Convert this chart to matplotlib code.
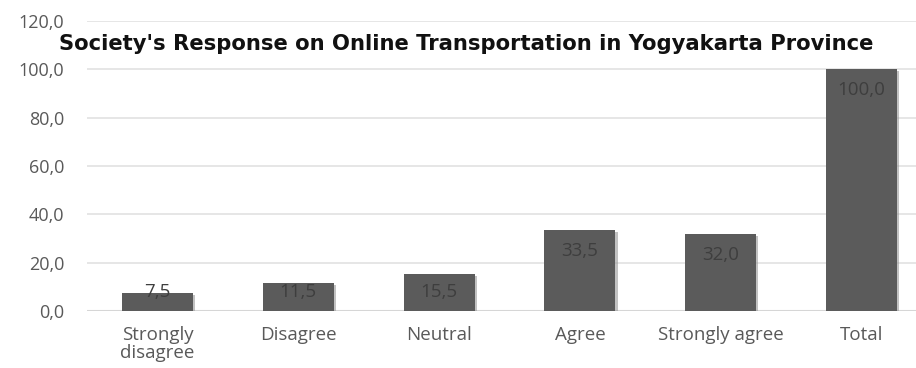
import matplotlib
matplotlib.use("Agg")
import matplotlib.pyplot as plt
import matplotlib.patheffects as pe

categories = ["Strongly\ndisagree", "Disagree", "Neutral", "Agree", "Strongly agree", "Total"]
values = [7.5, 11.5, 15.5, 33.5, 32.0, 100.0]
yticks = [0, 20, 40, 60, 80, 100, 120]
title = "Society's Response on Online Transportation in Yogyakarta Province"

W, H = 916, 368
fig = plt.figure(figsize=(W / 100, H / 100), dpi=100)
# axes: left at x=87px, bottom at y=311px, top (120) at y=21px
ax = fig.add_axes([87 / W, 1 - 311 / H, 1 - 87 / W, (311 - 21) / H])

x = list(range(len(categories)))
bars = ax.bar(x, values, width=0.505, color="#5b5b5b", zorder=3)
for b in bars:
    b.set_path_effects([pe.SimplePatchShadow(offset=(1.5, -1.5), shadow_rgbFace="#9a9a9a", alpha=0.6), pe.Normal()])

ax.set_ylim(0, 120)
ax.set_xlim(-0.5, 5.5 - 16 / 140.8)
ax.set_yticks(yticks)
ax.set_yticklabels([f"{v:.1f}".replace(".", ",") for v in yticks],
                   fontfamily="Open Sans", fontsize=13, color="#595959")
ax.set_xticks(x)
ax.set_xticklabels(categories, fontfamily="Open Sans", fontsize=13.5, color="#595959",
                   linespacing=0.95)
ax.tick_params(axis="both", length=0)
ax.tick_params(axis="y", pad=16.5)
ax.tick_params(axis="x", pad=11)
for s in ax.spines.values():
    s.set_visible(False)
ax.grid(axis="y", color="#e2e2e2", linewidth=1.2, zorder=0)
ax.axhline(0, color="#d6d6d6", linewidth=1.5, zorder=2)

px_per_unit = (311 - 21) / 120
for xi, v in zip(x, values):
    ly = max(v - 21 / px_per_unit, 7.9)
    ax.text(xi, ly, f"{v:.1f}".replace(".", ","), ha="center", va="center",
            fontfamily="Open Sans", fontsize=13.5, color="#3e3e3e", zorder=4)

fig.text(0.509, 1 - 44 / H, title, ha="center", va="center",
         fontfamily="DejaVu Sans", fontweight="bold", fontsize=15.2, color="#111111")

fig.savefig("out.png", dpi=100)
